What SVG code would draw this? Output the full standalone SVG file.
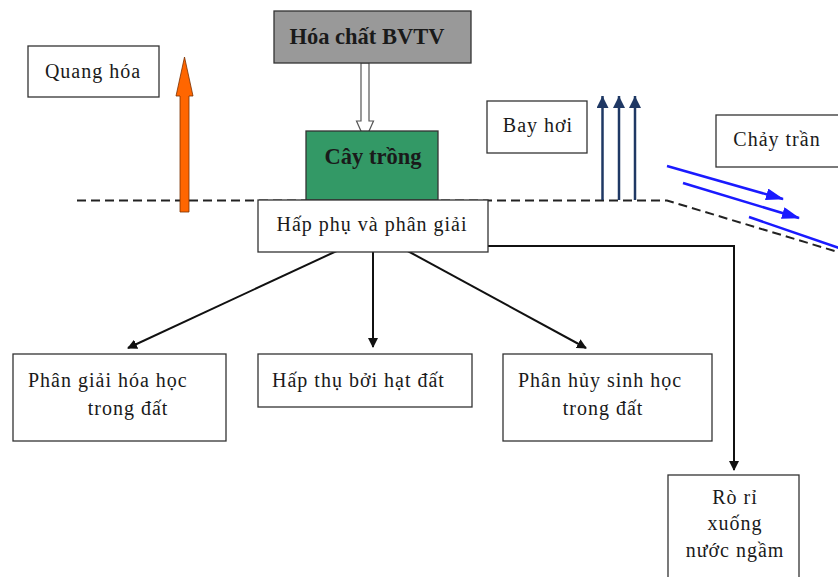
<svg xmlns="http://www.w3.org/2000/svg" width="838" height="577" viewBox="0 0 838 577">
  <style>
    .box { fill: #ffffff; stroke: #333333; stroke-width: 1.3; }
    .lbl { font-family: "Liberation Serif", "Times New Roman", serif; font-size: 20px; letter-spacing: 1px; fill: #1a1a1a; }
    .bold { font-family: "Liberation Serif", "Times New Roman", serif; font-size: 22.5px; font-weight: bold; fill: #1a1a1a; }
    .ground { fill: none; stroke: #222222; stroke-width: 2; stroke-dasharray: 9 5; }
    .link { fill: none; stroke: #111111; stroke-width: 2; }
    .runoff { fill: none; stroke: #1a1aff; stroke-width: 2.5; }
    .vapor { fill: none; stroke: #1f3864; stroke-width: 2.5; }
  </style>
  <defs>
    <marker id="blk" markerWidth="10" markerHeight="10" refX="9" refY="5" orient="auto" markerUnits="userSpaceOnUse">
      <path d="M0,0 L10,5 L0,10 Z" fill="#111111"/>
    </marker>
    <marker id="blue" markerWidth="18" markerHeight="12" refX="17" refY="6" orient="auto" markerUnits="userSpaceOnUse">
      <path d="M0,0 L18,6 L0,12 Z" fill="#1a1aff"/>
    </marker>
    <marker id="navy" markerWidth="12" markerHeight="12" refX="12" refY="6" orient="auto" markerUnits="userSpaceOnUse">
      <path d="M0,0 L12,6 L0,12 Z" fill="#1f3864"/>
    </marker>
  </defs>

  <rect width="838" height="577" fill="#ffffff"/>

  <!-- soil surface line -->
  <g id="ground">
    <path class="ground" d="M77,200.5 L667,200.5 L838,252"/>
  </g>

  <!-- connectors -->
  <g id="connectors">
    <!-- photolysis arrow -->
    <path d="M180,212 L180,96 L176,96 L184.5,57 L193,96 L189,96 L189,212 Z" fill="#ff6600" stroke="#7a3000" stroke-width="0.8"/>
    <!-- pesticide to crop (hollow arrow) -->
    <path d="M361,63 L361,121 L356.5,121 L365,140 L373.5,121 L369,121 L369,63 Z" fill="#ffffff" stroke="#555555" stroke-width="1.2"/>
    <!-- volatilisation -->
    <path class="vapor" d="M602.5,200 L602.5,96" marker-end="url(#navy)"/>
    <path class="vapor" d="M619,200 L619,96" marker-end="url(#navy)"/>
    <path class="vapor" d="M635,200 L635,96" marker-end="url(#navy)"/>
    <!-- runoff -->
    <path class="runoff" d="M667,166 L783,199" marker-end="url(#blue)"/>
    <path class="runoff" d="M683,183 L799,218" marker-end="url(#blue)"/>
    <path class="runoff" d="M749,217 L845,250"/>
    <!-- sorption and degradation branches -->
    <path class="link" d="M341,249 L128,348" marker-end="url(#blk)"/>
    <path class="link" d="M373,249 L373,347" marker-end="url(#blk)"/>
    <path class="link" d="M404,249 L586,348" marker-end="url(#blk)"/>
    <!-- leaching -->
    <path class="link" d="M488,246 L734,246 L734,470" marker-end="url(#blk)" stroke-width="1.6"/>
  </g>

  <g id="hoa-chat">
    <rect x="274" y="11" width="197" height="52" fill="#999999" stroke="#333333" stroke-width="1.3"/>
    <text class="bold" x="367" y="44" text-anchor="middle">Hóa chất BVTV</text>
  </g>

  <g id="cay-trong">
    <rect x="306" y="131" width="132" height="69" fill="#339966" stroke="#333333" stroke-width="1.3"/>
    <text class="bold" x="373" y="164" text-anchor="middle" font-size="20.5">Cây trồng</text>
  </g>

  <g id="quang-hoa">
    <rect class="box" x="28" y="46" width="131" height="51"/>
    <text class="lbl" x="93" y="78" text-anchor="middle">Quang hóa</text>
  </g>

  <g id="bay-hoi">
    <rect class="box" x="487" y="101" width="100" height="52"/>
    <text class="lbl" x="538" y="132" text-anchor="middle">Bay hơi</text>
  </g>

  <g id="chay-tran">
    <rect class="box" x="716" y="115" width="130" height="52"/>
    <text class="lbl" x="777" y="146" text-anchor="middle">Chảy trần</text>
  </g>

  <g id="hap-phu">
    <rect class="box" x="258" y="200" width="230" height="52"/>
    <text class="lbl" x="372" y="231" text-anchor="middle">Hấp phụ và phân giải</text>
  </g>

  <g id="phan-giai">
    <rect class="box" x="13" y="354" width="213" height="87"/>
    <text class="lbl" x="28" y="387">Phân giải hóa học</text>
    <text class="lbl" x="128" y="415" text-anchor="middle">trong đất</text>
  </g>

  <g id="hap-thu">
    <rect class="box" x="258" y="354" width="214" height="53"/>
    <text class="lbl" x="272" y="387">Hấp thụ bởi hạt đất</text>
  </g>

  <g id="phan-huy">
    <rect class="box" x="503" y="354" width="209" height="87"/>
    <text class="lbl" x="518" y="387">Phân hủy sinh học</text>
    <text class="lbl" x="603" y="415" text-anchor="middle">trong đất</text>
  </g>

  <g id="ro-ri">
    <rect class="box" x="668" y="475" width="131" height="110"/>
    <text class="lbl" x="735" y="504" text-anchor="middle">Rò rỉ</text>
    <text class="lbl" x="735" y="530" text-anchor="middle">xuống</text>
    <text class="lbl" x="735" y="557" text-anchor="middle">nước ngầm</text>
  </g>
</svg>
